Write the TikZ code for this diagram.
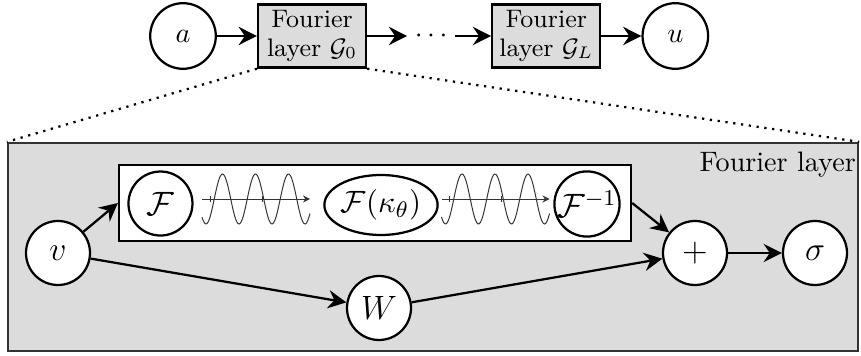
\documentclass[tikz,border=0pt]{standalone}
\usepackage{tikz}
\usetikzlibrary{arrows.meta,positioning,shapes.geometric}
\usepackage{xcolor}
\definecolor{panel}{HTML}{DCDCDC}
\definecolor{ink}{HTML}{333333}

\begin{document}
\begin{tikzpicture}[
  node distance=0.5cm,
  var/.style={draw, thick, circle, fill=white, minimum size=0.8cm, inner sep=0pt},
  op/.style={var, font=\fontsize{11.5}{13}\selectfont},
  layerbox/.style={draw, thick, fill=panel, minimum width=1.35cm,
    minimum height=0.79cm, inner sep=2pt, align=center, font=\small},
  flow/.style={-{Stealth[length=6.5pt,width=6.5pt,inset=2.2pt]}, thick},
  zoomline/.style={thick, dotted},
  axisline/.style={-{Stealth[length=2.5pt,width=2.5pt]}, line width=0.35pt, draw=ink},
  wave/.style={line width=0.35pt, draw=ink}
]
\useasboundingbox (0,0) rectangle (10.7625,-4.45);

% stack of layers
\node[var, minimum size=0.82cm] (a) at (2.2875,-0.45) {$a$};
\node[layerbox, right=of a] (g0) {Fourier\\[-1pt]layer $\mathcal{G}_0$};
\node[inner sep=2.5pt, right=of g0] (dots) {$\cdots$};
\node[layerbox, right=0.45cm of dots] (gl) {Fourier\\[-1pt]layer $\mathcal{G}_L$};
\node[var, minimum size=0.82cm, right=of gl] (u) {$u$};
\draw[flow] (a) -- (g0);
\draw[flow] (g0) -- (dots);
\draw[flow] (dots) -- (gl);
\draw[flow] (gl) -- (u);

% one layer, zoomed in
\node[draw=black!80, thick, fill=panel, minimum width=10.625cm,
  minimum height=2.6cm] (layer) at (5.4125,-3.0875) {};
\node[anchor=north east, inner xsep=1pt] (title) at (layer.north east) {Fourier layer};
\draw[zoomline] (g0.south west) -- (layer.north west);
\draw[zoomline] (g0.south east) -- (layer.north east);

\node[draw, thick, fill=white, minimum width=6.4cm, minimum height=0.95cm] (spec) at (4.6875,-2.5375) {};
\node[op] (v) at (0.725,-3.1625) {$v$};
\node[op] (ft) at (2.006,-2.544) {$\mathcal{F}$};
\node[draw, thick, ellipse, fill=white, minimum width=1.38cm, minimum height=0.75cm,
  inner sep=0pt, font=\fontsize{11}{13}\selectfont] (kappa) at (4.7625,-2.5625) {$\mathcal{F}(\kappa_\theta)$};
\node[op] (ift) at (7.3375,-2.55) {$\mathcal{F}^{-1}$};
\node[op] (w) at (4.7375,-3.85) {$W$};
\node[op, font=\large] (plus) at (8.6875,-3.1625) {$+$};
\node[op] (act) at (10.1875,-3.1625) {$\sigma$};

% modes
\coordinate (w1) at (2.525,-2.4875);
\coordinate (w2) at (5.519,-2.4875);
\draw[axisline] (w1) -- ++(1.35,0);
\draw[wave, shift={(w1)}] plot[domain=0:1.35, samples=90, smooth]
  (\x, {-0.3125*cos(360*(\x-0.05)/0.4125)});
\draw[wave, shift={(w1)}] (0.1,-0.04) -- (0.1,0.04) (0.75,-0.04) -- (0.75,0.04);
\draw[axisline] (w2) -- ++(1.35,0);
\draw[wave, shift={(w2)}] plot[domain=0:1.35, samples=90, smooth]
  (\x, {-0.3125*cos(360*(\x-0.05)/0.4125)});
\draw[wave, shift={(w2)}] (0.1,-0.04) -- (0.1,0.04) (0.75,-0.04) -- (0.75,0.04);

\draw[flow] (v) -- (spec.west);
\draw[flow] (v) -- (w);
\draw[flow] (w) -- (plus);
\draw[flow] (spec.east) -- (plus);
\draw[flow] (plus) -- (act);
\end{tikzpicture}
\end{document}
